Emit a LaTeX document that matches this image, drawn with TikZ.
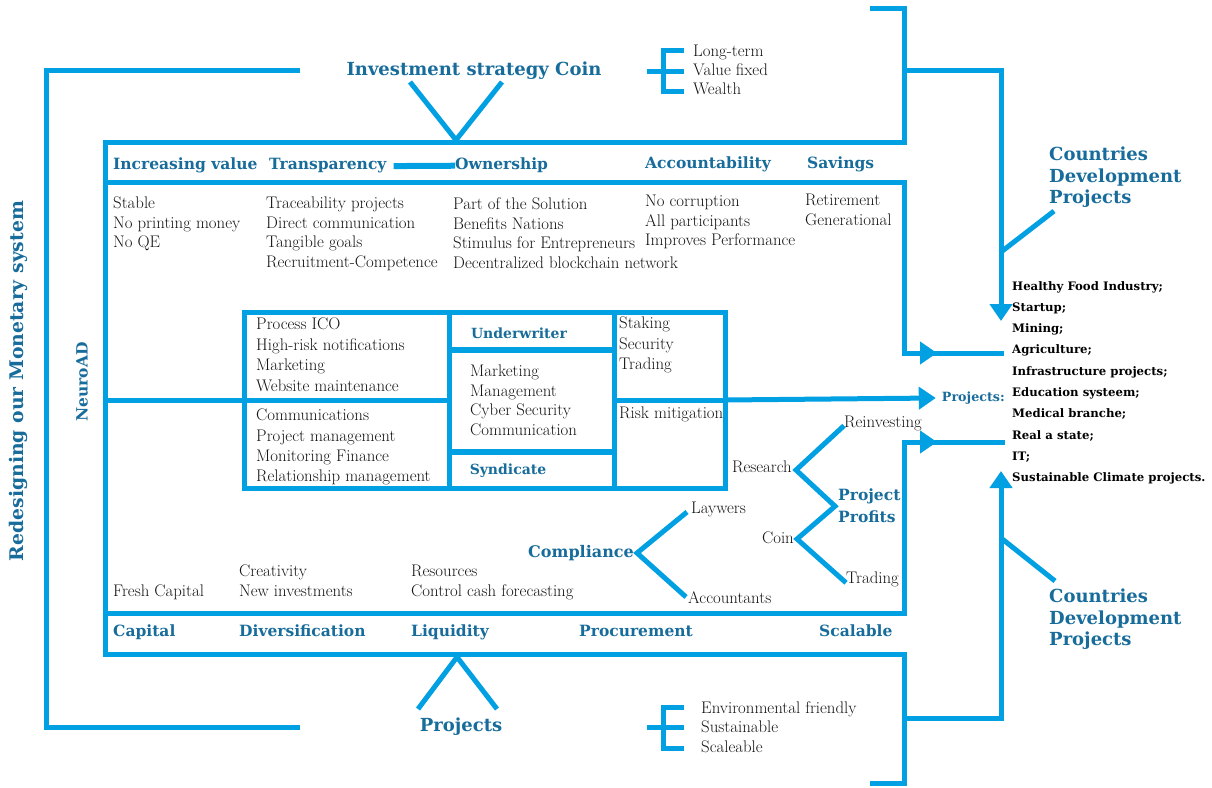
\documentclass[tikz,border=0pt]{standalone}
\usepackage{fontspec}
\newfontfamily\slabfont{DejaVu Serif}
\usetikzlibrary{arrows.meta}
\definecolor{rulecol}{RGB}{0,160,227}
\definecolor{headcol}{RGB}{24,108,155}
\tikzset{
	rule/.style={draw=rulecol,line width=5pt},
	ruletip/.style={rule,-{Triangle[length=17pt,width=22pt]}},
	body/.style={inner sep=0pt,anchor=north west,align=left,text=black!92,font=\fontsize{16.8}{19.5}\selectfont},
	head/.style={inner sep=0pt,anchor=base west,text=headcol,font=\slabfont\bfseries\fontsize{15.5}{19}\selectfont},
	bighead/.style={head,font=\slabfont\bfseries\fontsize{18}{21.5}\selectfont},
	listtxt/.style={inner sep=0pt,anchor=north west,align=left,font=\slabfont\bfseries\fontsize{11.7}{21.3}\selectfont},
}
\begin{document}
\begin{tikzpicture}[x=1pt,y=-1pt]
	\useasboundingbox (0,0) rectangle (1212,787);
	% titles around the frame
	\node[bighead,anchor=base] (invest) at (474,75) {Investment strategy Coin};
	\node[bighead,anchor=center] (projbot) at (461,727) {Projects};
	\node[head,anchor=center,rotate=90,font=\slabfont\bfseries\fontsize{18.8}{20}\selectfont] (redesign) at (18.5,381) {Redesigning our Monetary system};
	\node[head,anchor=center,rotate=90,font=\slabfont\bfseries\fontsize{15.5}{18}\selectfont] (neuro) at (82,382) {NeuroAD};
	\node[bighead,anchor=north west,align=left] (cdtop) at (1049,147) {Countries\\Development\\Projects};
	\node[bighead,anchor=north west,align=left] (cdbot) at (1049,589) {Countries\\Development\\Projects};
	\node[body,font=\fontsize{16.8}{19}\selectfont] (longterm) at (693,45) {Long-term\\Value fixed\\Wealth};
	\node[body] (envir) at (701,701) {Environmental friendly\\Sustainable\\Scaleable};
	% outer frame
	\draw[rule] (300,70) -- (46,70) -- (46,727) -- (300,727);
	\draw[rule] (870,8) -- (904,8) -- (904,142) -- (105,142) -- (105,654) -- (904,654) -- (904,783) -- (870,783);
	\draw[rule] (105,182) -- (904,182) -- (904,353) -- (1004,353);
	\draw[rule] (105,613) -- (904,613) -- (904,442) -- (1005,442);
	\draw[ruletip] (904,353) -- (937,353);
	\draw[ruletip] (904,442) -- (937,442);
	\draw[ruletip] (904,70) -- (1001,70) -- (1001,321);
	\draw[ruletip] (904,718) -- (1001,718) -- (1001,471);
	\draw[rule] (1001,252) -- ([shift={(5,3)}]cdtop.south west);
	\draw[rule] (1001,538) -- ([shift={(6,-8)}]cdbot.north west);
	% V shapes
	\coordinate (vtop) at (456,140);
	\coordinate (vbot) at (457,657);
	\draw[rule] (410,82) -- (vtop) -- (502,82);
	\draw[rule] (418,709) -- (vbot) -- (497,709);
	% E brackets
	\draw[rule] (684,50) -- (663,50) -- (663,91) -- (684,91);
	\draw[rule] (647,71) -- (684,71);
	\draw[rule] (684,707) -- (663,707) -- (663,748) -- (684,748);
	\draw[rule] (647,727) -- (684,727);
	% header rows
	\node[head] (incval) at (113,169) {Increasing value};
	\node[head] (transp) at (269,169) {Transparency};
	\node[head] (owner) at (455,169) {Ownership};
	\node[head] (account) at (645,168) {Accountability};
	\node[head] (savings) at (807,168) {Savings};
	\draw[rule,line width=6pt] ([xshift=7pt,yshift=-1pt]transp.east) -- ([yshift=-1pt]owner.west);
	\node[head] (capital) at (113,636) {Capital};
	\node[head] (divers) at (239,636) {Diversification};
	\node[head] (liquid) at (411,636) {Liquidity};
	\node[head] (procure) at (579,636) {Procurement};
	\node[head] (scal) at (819,636) {Scalable};
	% top columns
	\node[body] (stable) at (113,197) {Stable\\No printing money\\No QE};
	\node[body] (trace) at (266,197) {Traceability projects\\Direct communication\\Tangible goals\\Recruitment-Competence};
	\node[body] (part) at (453,198) {Part of the Solution\\Benefits Nations\\Stimulus for Entrepreneurs\\Decentralized blockchain network};
	\node[body] (nocorr) at (645,195) {No corruption\\All participants\\Improves Performance};
	\node[body] (retire) at (805,194) {Retirement\\Generational};
	% centre box
	\draw[rule] (244,312) rectangle (725,488);
	\draw[rule] (449,312) -- (449,488);
	\draw[rule] (614,312) -- (614,488);
	\draw[rule,line width=6pt] (449,350) -- (614,350);
	\draw[rule,line width=6pt] (449,452) -- (614,452);
	\draw[rule] (105,400) -- (449,400);
	\node[head,anchor=east,font=\slabfont\bfseries\fontsize{12.7}{15}\selectfont] (projects) at (1005,398) {Projects:};
	\draw[rule] (614,400) -- (725,400);
	\draw[ruletip] (725,400) -- ([xshift=-6pt]projects.west);
	\node[body,font=\fontsize{16.8}{20.4}\selectfont] (ico) at (256,318) {Process ICO\\High-risk notifications\\Marketing\\Website maintenance};
	\node[body,font=\fontsize{16.8}{20.3}\selectfont] (comms) at (256,409) {Communications\\Project management\\Monitoring Finance\\Relationship management};
	\node[head,anchor=center,font=\slabfont\bfseries\fontsize{14}{16}\selectfont] (under) at (519,333) {Underwriter};
	\node[body] (mkt) at (470,365) {Marketing\\Management\\Cyber Security\\Communication};
	\node[head,anchor=center,font=\slabfont\bfseries\fontsize{14}{16}\selectfont] (synd) at (508,471) {Syndicate};
	\node[body,font=\fontsize{16.8}{20.4}\selectfont] (stake) at (619,317) {Staking\\Security\\Trading};
	\node[body] (risk) at (619,407) {Risk mitigation};
	% lower part
	\node[body] (fresh) at (113,585) {Fresh Capital};
	\node[body] (creat) at (239,565) {Creativity\\New investments};
	\node[body] (resrc) at (411,565) {Resources\\Control cash forecasting};
	\node[head,anchor=east,font=\slabfont\bfseries\fontsize{16}{19}\selectfont] (comp) at (634,553) {Compliance};
	\node[body,anchor=west] (laywers) at (691,509) {Laywers};
	\node[body,anchor=west] (accnt) at (688,598) {Accountants};
	\draw[rule] ([shift={(-4,3)}]laywers.west) -- ([xshift=3pt]comp.east) -- ([shift={(-2,-1)}]accnt.west);
	\node[head,anchor=north west,align=left,font=\slabfont\bfseries\fontsize{15.5}{22}\selectfont] (profit) at (838,489) {Project\\Profits};
	\node[body,anchor=east] (research) at (792,467) {Research};
	\node[body,anchor=west] (reinv) at (844,423) {Reinvesting};
	\node[body,anchor=east] (coin) at (794,538) {Coin};
	\node[body,anchor=west] (trading) at (846,579) {Trading};
	\draw[rule] ([yshift=5pt]reinv.south west) -- ([shift={(4,3)}]research.east) -- ([xshift=-3pt]profit.west) -- ([shift={(3,1)}]coin.east) -- ([yshift=4pt]trading.south west);
	% sectors list
	\node[listtxt] (sectors) at (1012,281) {Healthy Food Industry;\\Startup;\\Mining;\\Agriculture;\\Infrastructure projects;\\Education systeem;\\Medical branche;\\Real a state;\\IT;\\Sustainable Climate projects.};
\end{tikzpicture}
\end{document}
